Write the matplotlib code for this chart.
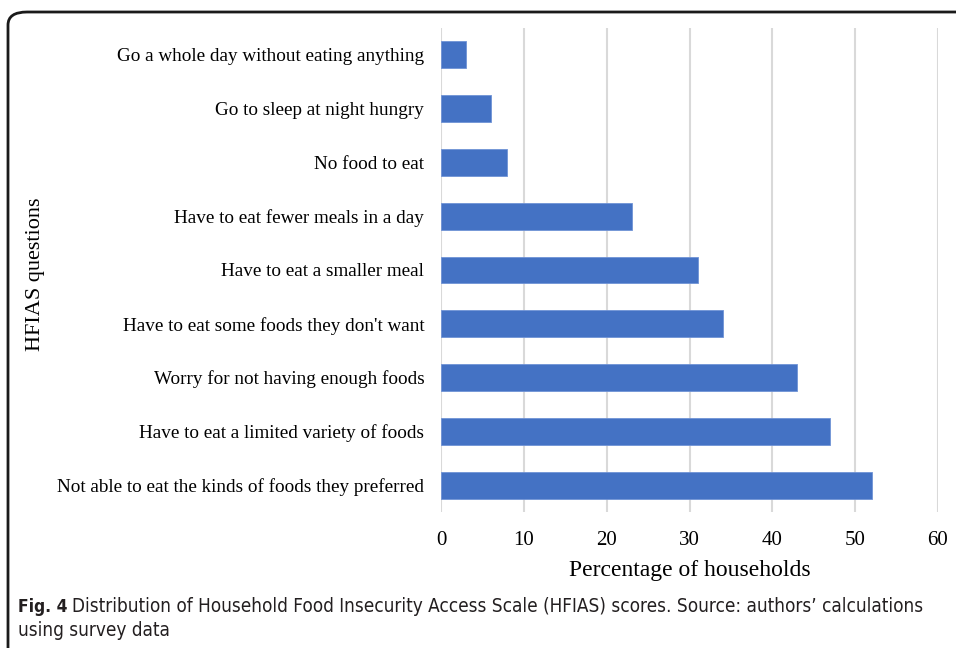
import matplotlib.pyplot as plt
from matplotlib.patches import FancyBboxPatch

questions = [
    "Go a whole day without eating anything",
    "Go to sleep at night hungry",
    "No food to eat",
    "Have to eat fewer meals in a day",
    "Have to eat a smaller meal",
    "Have to eat some foods they don't want",
    "Worry for not having enough foods",
    "Have to eat a limited variety of foods",
    "Not able to eat the kinds of foods they preferred",
]
percent = [3, 6, 8, 23, 31, 34, 43, 47, 52]
xticks = [0, 10, 20, 30, 40, 50, 60]

serif = ["Liberation Serif", "DejaVu Serif"]

fig = plt.figure(figsize=(9.56, 6.48), dpi=100)
ax = fig.add_axes([441 / 956, 1 - 512 / 648, (938 - 441) / 956, (512 - 28) / 648])

ypos = list(range(len(questions)))
ax.barh(ypos, percent, height=0.5, color="#4472C4", edgecolor="#6f93d6", linewidth=0.6, zorder=3)
ax.set_ylim(len(questions) - 0.5, -0.5)
ax.set_xlim(0, 60)
ax.set_xticks(xticks)
ax.set_xticklabels([str(t) for t in xticks], fontfamily=serif, fontsize=15)
ax.set_yticks(ypos)
ax.set_yticklabels(questions, fontfamily=serif, fontsize=13.8)
ax.tick_params(length=0, pad=12)
ax.tick_params(axis="x", pad=14)
ax.grid(axis="x", color="#d9d9d9", linewidth=1.5, zorder=0)
for s in ax.spines.values():
    s.set_visible(False)

ax.set_xlabel("Percentage of households", fontfamily=serif, fontsize=17, labelpad=7)
fig.text(36 / 956, 1 - 274 / 648, "HFIAS questions", rotation=90, ha="center", va="center",
         fontfamily=serif, fontsize=16)

# rounded frame of the figure panel
frame = FancyBboxPatch((8 / 956, -0.2), 1.2, 1 - 12 / 648 + 0.2,
                       boxstyle="round,pad=0,rounding_size=0.02",
                       transform=fig.transFigure, fill=False,
                       edgecolor="#1a1a1a", linewidth=2, clip_on=False)
fig.patches.append(frame)

cap = dict(family="DejaVu Sans", stretch="condensed", va="center", color="#231f20")
fig_lbl = fig.text(18 / 956, 1 - 607 / 648, "Fig. 4", fontweight="bold", fontsize=12.5, **cap)
fig.draw_without_rendering()
bb = fig_lbl.get_window_extent()
fig.text((bb.x1 + 5) / 956, 1 - 607 / 648,
         "Distribution of Household Food Insecurity Access Scale (HFIAS) scores. Source: authors\u2019 calculations",
         fontsize=13.6, **cap)
fig.text(18 / 956, 1 - 630 / 648, "using survey data", fontsize=13.6, **cap)

fig.savefig("out.png", dpi=100)
